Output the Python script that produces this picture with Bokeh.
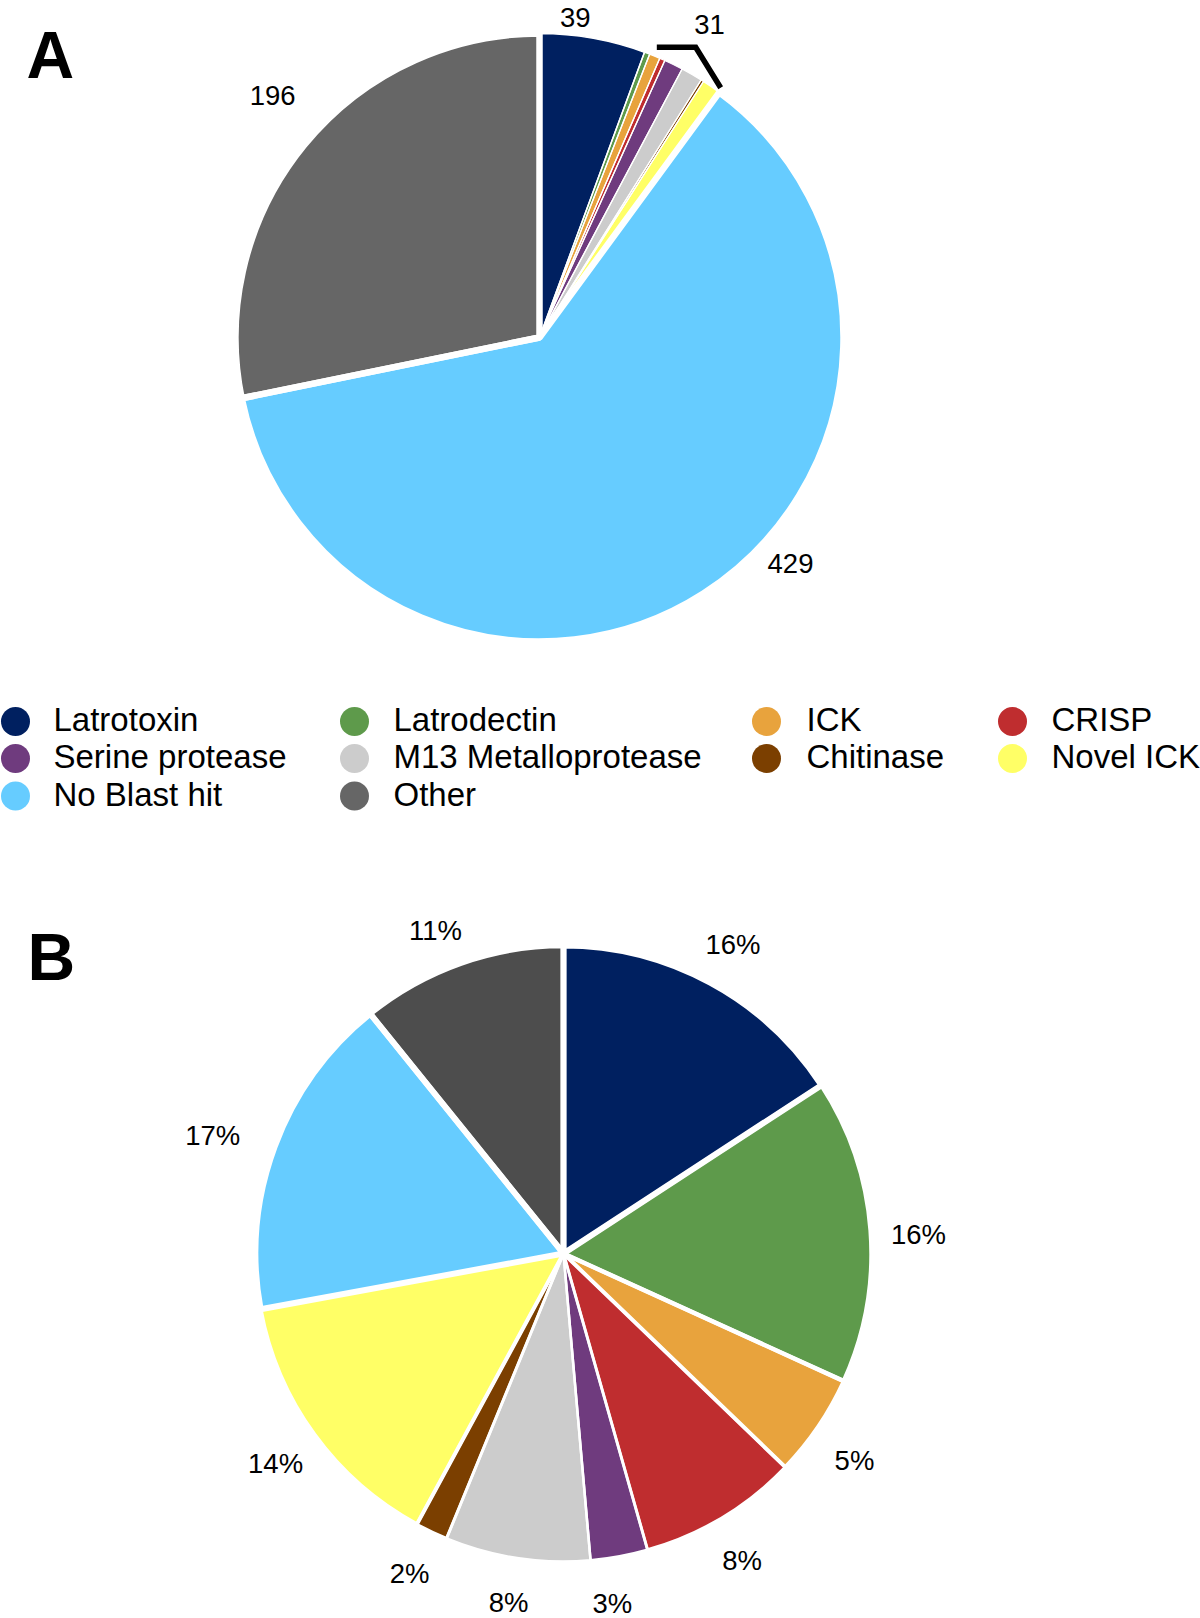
import numpy as np
from bokeh.plotting import figure
from bokeh.models import Range1d, ColumnDataSource
from bokeh.embed import file_html
from bokeh.resources import INLINE
from bokeh.core.properties import value

# ---------------- data ----------------
categories = ["Latrotoxin", "Latrodectin", "ICK", "CRISP", "Serine protease",
              "M13 Metalloprotease", "Chitinase", "Novel ICK", "No Blast hit", "Other"]
# Panel A: number of transcripts per category
counts_a = [39, 2, 4, 2, 7, 8, 1, 7, 429, 196]
small_group = [1, 2, 3, 4, 5, 6, 7]          # bracketed group (labelled with its sum)
# Panel B: percentage per category
percent_b = [15.8, 16.0, 5.4, 8.4, 3.0, 7.6, 1.7, 14.2, 17.1, 10.8]
labels_b = ["16%", "16%", "5%", "8%", "3%", "8%", "2%", "14%", "17%", "11%"]

colors_a = ["#002060", "#5E9A4B", "#E8A33D", "#BF2D2F", "#6F3B7E",
            "#CCCCCC", "#7B3F00", "#FFFF66", "#66CCFF", "#666666"]
colors_b = ["#002060", "#5E9A4B", "#E8A33D", "#BF2D2F", "#6F3B7E",
            "#CCCCCC", "#7B3F00", "#FFFF66", "#66CCFF", "#4D4D4D"]

# ---------------- layout (image pixel space) ----------------
IMG_W, IMG_H = 1200, 1618
FONT = "Liberation Sans"

p = figure(width=IMG_W, height=IMG_H, x_range=Range1d(0, IMG_W),
           y_range=Range1d(0, IMG_H), output_backend="svg",
           toolbar_location=None, x_axis_location=None, y_axis_location=None,
           min_border=0)
p.grid.visible = False
p.outline_line_color = None
p.background_fill_color = "white"
p.border_fill_color = "white"


def FY(yi):
    return IMG_H - yi


def polar(cx, cy, r, theta_deg):
    t = np.radians(theta_deg)
    return cx + r * np.sin(t), cy - r * np.cos(t)


def pie(vals, cx, cy, R, colors, widths):
    v = np.asarray(vals, dtype=float)
    cum = np.concatenate([[0.0], np.cumsum(v)]) / v.sum() * 2 * np.pi
    t1, t2 = cum[:-1], cum[1:]
    n = len(v)
    src = ColumnDataSource(dict(x=[cx] * n, y=[FY(cy)] * n,
                                start=np.pi / 2 - t2, end=np.pi / 2 - t1,
                                color=colors, lw=list(widths)))
    p.wedge(x="x", y="y", radius=R, start_angle="start", end_angle="end",
            fill_color="color", line_color=None, source=src)
    p.wedge(x="x", y="y", radius=R, start_angle="start", end_angle="end",
            fill_color=None, line_color="white", line_width="lw", source=src)
    return np.degrees(t1), np.degrees(t2)


def label(xc, yc, txt, fs, align="center", bold=False):
    # yc = visual centre of the glyphs
    p.text(x=[xc], y=[FY(yc)], text=[txt],
           text_font=value(FONT), text_font_size=value(f"{fs:.2f}px"),
           text_font_style="bold" if bold else "normal",
           text_align=align, text_baseline="alphabetic", text_color="black")


# ---------------- panel A ----------------
CAX, CAY, RA = 539, 337, 304
widths_a = [1.5, 1.3, 1.3, 1.3, 1.3, 1.3, 1.3, 1.3, 6.5, 6.5]
a1, a2 = pie(counts_a, CAX, CAY, RA, colors_a, widths_a)

LBL = 27.5
texts_a = [str(counts_a[0]), str(sum(counts_a[i] for i in small_group)),
           str(counts_a[8]), str(counts_a[9])]
# label placement (angle deg clockwise from 12 o'clock, radius factor)
place_a = [(6.4, 1.058), (28.5, 1.172), (132.0, 1.111), (312.2, 1.185)]
for t, (ang, rf) in zip(texts_a, place_a):
    x, y = polar(CAX, CAY, RA * rf, ang)
    label(x, y, t, LBL)

# bracket around the small group
th_s = a2[0] + 1.8
th_e = a2[small_group[-1]] - 0.3
xs, ys = polar(CAX, CAY, RA * 1.03, th_s)
xe, ye = polar(CAX, CAY, RA * 1.015, th_e)
th_c = th_s + 0.45 * (th_e - th_s)
xc = CAX + (CAY - ys) * np.tan(np.radians(th_c))
p.line(x=[xs, xc, xe], y=[FY(ys), FY(ys), FY(ye)], line_color="black",
       line_width=5.5, line_join="miter")

# panel letters
label(26, 54.5, "A", 66, align="left", bold=True)
label(27, 956, "B", 66, align="left", bold=True)

# ---------------- legend ----------------
col_circle = [15, 354, 766, 1012]
col_text = [53, 393, 806, 1051]
row_y = [721, 758, 795.5]
LEG = 33
lx, ly, lc, tx, ty, tt = [], [], [], [], [], []
for i, name in enumerate(categories):
    r, c = divmod(i, 4)
    lx.append(col_circle[c]); ly.append(FY(row_y[r])); lc.append(colors_a[i])
    tx.append(col_text[c]); ty.append(FY(row_y[r] - 2)); tt.append(name)
p.scatter(x=lx, y=ly, marker="circle", size=29, fill_color=lc, line_color=None)
p.text(x=tx, y=ty, text=tt, text_font=value(FONT),
       text_font_size=value(f"{LEG:.2f}px"), text_align="left",
       text_baseline="alphabetic", text_color="black")

# ---------------- panel B ----------------
CBX, CBY, RB = 563, 1253, 308
widths_b = [6, 4.5, 4, 3, 2.5, 2.5, 3, 4, 6, 5.5]
b1, b2 = pie(percent_b, CBX, CBY, RB, colors_b, widths_b)
rf_b = [1.144, 1.154, 1.159, 1.154, 1.146, 1.146, 1.153, 1.157, 1.202, 1.128]
nudge_b = [0.3, 1.2, 1.2, 0.8, 2.5, 0.3, 0.3, -0.1, -1.7, -2.2]
for i, t in enumerate(labels_b):
    mid = (b1[i] + b2[i]) / 2 + nudge_b[i]
    x, y = polar(CBX, CBY, RB * rf_b[i], mid)
    label(x, y, t, LBL)

open("out.html", "w").write(file_html(p, INLINE))
